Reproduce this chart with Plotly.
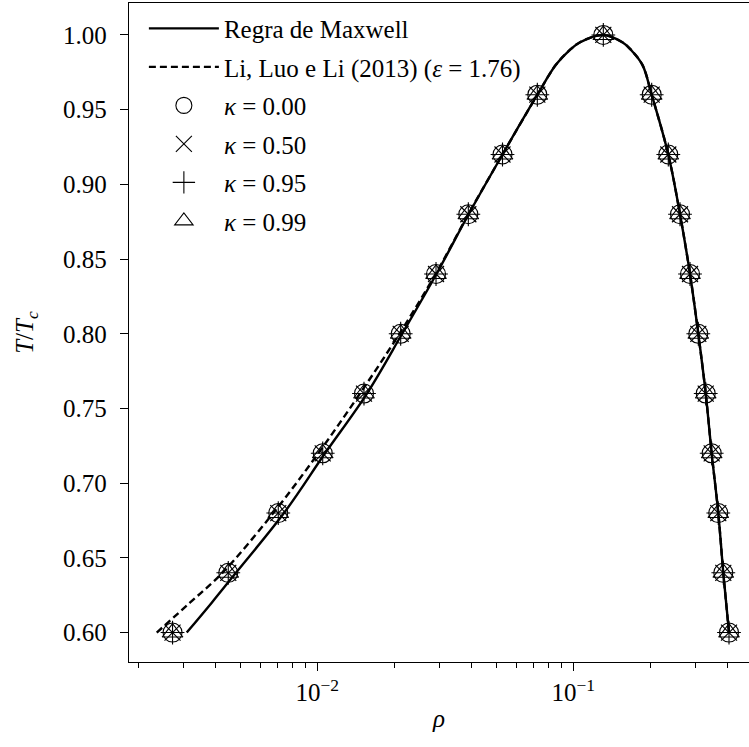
import plotly.graph_objects as go

# ---- data ----
T_markers = [0.60, 0.64, 0.68, 0.72, 0.76, 0.80, 0.84, 0.88, 0.92, 0.96, 1.00,
             0.96, 0.92, 0.88, 0.84, 0.80, 0.76, 0.72, 0.68, 0.64, 0.60]
rho_k000 = [0.00272, 0.00449, 0.00704, 0.01050, 0.01522, 0.02117, 0.02909, 0.03890,
            0.05290, 0.07236, 0.1310, 0.2024, 0.2350, 0.2611, 0.2857, 0.3078,
            0.3290, 0.3472, 0.3684, 0.3854, 0.4057]
rho_k050 = [0.00272, 0.00449, 0.00704, 0.01050, 0.01522, 0.02117, 0.02909, 0.03890,
            0.05290, 0.07236, 0.1310, 0.2024, 0.2350, 0.2611, 0.2857, 0.3078,
            0.3290, 0.3472, 0.3684, 0.3854, 0.4057]
rho_k095 = [0.00272, 0.00449, 0.00704, 0.01050, 0.01522, 0.02117, 0.02909, 0.03890,
            0.05290, 0.07236, 0.1310, 0.2024, 0.2350, 0.2611, 0.2857, 0.3078,
            0.3290, 0.3472, 0.3684, 0.3854, 0.4057]
rho_k099 = [0.00272, 0.00449, 0.00704, 0.01050, 0.01522, 0.02117, 0.02909, 0.03890,
            0.05290, 0.07236, 0.1310, 0.2024, 0.2350, 0.2611, 0.2857, 0.3078,
            0.3290, 0.3472, 0.3684, 0.3854, 0.4057]

T_maxwell = [0.60, 0.62, 0.64, 0.68, 0.72, 0.76, 0.80, 0.84, 0.88, 0.92, 0.96, 0.98, 0.99, 0.995, 1.00,
             0.995, 0.99, 0.98, 0.96, 0.92, 0.88, 0.84, 0.80, 0.76, 0.72, 0.68, 0.64, 0.60]
rho_maxwell = [0.00309, 0.00387, 0.00481, 0.00741, 0.01072, 0.01563, 0.02145, 0.02920,
               0.03900, 0.05290, 0.07240, 0.08550, 0.09700, 0.1059, 0.1304,
               0.1560, 0.1680, 0.1862, 0.2024, 0.2350, 0.2611, 0.2857, 0.3078, 0.3290,
               0.3472, 0.3684, 0.3854, 0.4057]

T_li = [0.60, 0.62, 0.64, 0.68, 0.72, 0.76, 0.80, 0.84, 0.88, 0.92, 0.96, 0.98, 0.99, 0.995, 1.00,
        0.995, 0.99, 0.98, 0.96, 0.92, 0.88, 0.84, 0.80, 0.76, 0.72, 0.68, 0.64, 0.60]
rho_li = [0.00236, 0.00318, 0.00426, 0.00673, 0.01009, 0.01468, 0.02093, 0.02900,
          0.03890, 0.05290, 0.07240, 0.08550, 0.09700, 0.1059, 0.1304,
          0.1560, 0.1680, 0.1862, 0.2024, 0.2350, 0.2611, 0.2857, 0.3078, 0.3290,
          0.3472, 0.3684, 0.3854, 0.4057]

x_major = [0.01, 0.1]
x_major_text = ["10<sup>\u22122</sup>", "10<sup>\u22121</sup>"]
x_minor = [m * 10.0 ** e for e in (-3, -2, -1) for m in range(2, 10)]
y_ticks = [0.60, 0.65, 0.70, 0.75, 0.80, 0.85, 0.90, 0.95, 1.00]

SERIF = "Liberation Serif, Times New Roman, serif"

fig = go.Figure()
fig.add_trace(go.Scatter(x=rho_maxwell, y=T_maxwell, mode="lines", name="Regra de Maxwell",
                         line=dict(color="black", width=2.4, shape="spline", smoothing=1.0),
                         legendgroup="a"))
fig.add_trace(go.Scatter(x=rho_li, y=T_li, mode="lines",
                         name="Li, Luo e Li (2013) (<i>\u03b5</i> = 1.76)",
                         line=dict(color="black", width=2.4, dash="7px,4px", shape="spline", smoothing=1.0),
                         legendgroup="b"))
marker_defs = [
    (rho_k000, "<i>\u03ba</i> = 0.00", "circle-open", 19, "c"),
    (rho_k050, "<i>\u03ba</i> = 0.50", "x-thin-open", 16, "d"),
    (rho_k095, "<i>\u03ba</i> = 0.95", "cross-thin-open", 17, "e"),
    (rho_k099, "<i>\u03ba</i> = 0.99", "triangle-up-open", 18, "f"),
]
for rho, name, sym, size, grp in marker_defs:
    fig.add_trace(go.Scatter(x=rho, y=T_markers, mode="markers", name=name,
                             marker=dict(symbol=sym, size=size, color="black",
                                         line=dict(color="black", width=1.1)),
                             legendgroup=grp))

fig.update_layout(
    width=749, height=747,
    margin=dict(l=129, r=0, t=3, b=85),
    paper_bgcolor="white", plot_bgcolor="white",
    font=dict(family=SERIF, size=25, color="black"),
    showlegend=True,
    legend=dict(x=0.024, y=0.996, xanchor="left", yanchor="top",
                bgcolor="rgba(0,0,0,0)", borderwidth=0,
                font=dict(family=SERIF, size=25, color="black"),
                itemwidth=70, tracegroupgap=3),
    xaxis=dict(type="log", range=[-2.7355, -0.3137], automargin=False,
               tickmode="array", tickvals=x_major, ticktext=x_major_text,
               ticks="outside", ticklen=8, tickwidth=1.3, tickcolor="black",
               showline=True, linecolor="black", linewidth=1.3, mirror=True,
               showgrid=False, zeroline=False,
               tickfont=dict(family=SERIF, size=25),
               minor=dict(tickmode="array", tickvals=x_minor, ticks="outside",
                          ticklen=4.5, tickwidth=1, tickcolor="black", showgrid=False),
               title=dict(text="<i>\u03c1</i>", font=dict(family=SERIF, size=25), standoff=4)),
    yaxis=dict(range=[0.5803, 1.0214], automargin=False,
               tickmode="array", tickvals=y_ticks, tickformat=".2f",
               ticks="outside", ticklen=8, tickwidth=1.3, tickcolor="black",
               ticklabelstandoff=8,
               showline=True, linecolor="black", linewidth=1.3,
               showgrid=False, zeroline=False,
               tickfont=dict(family=SERIF, size=25),
               title=dict(text="<i>T</i>/<i>T</i><sub><i>c</i></sub>",
                          font=dict(family=SERIF, size=25), standoff=22)),
)

fig.write_html("out.html", config={"displayModeBar": False},
               post_script="document.body.style.margin='0';document.body.style.overflow='hidden';")
